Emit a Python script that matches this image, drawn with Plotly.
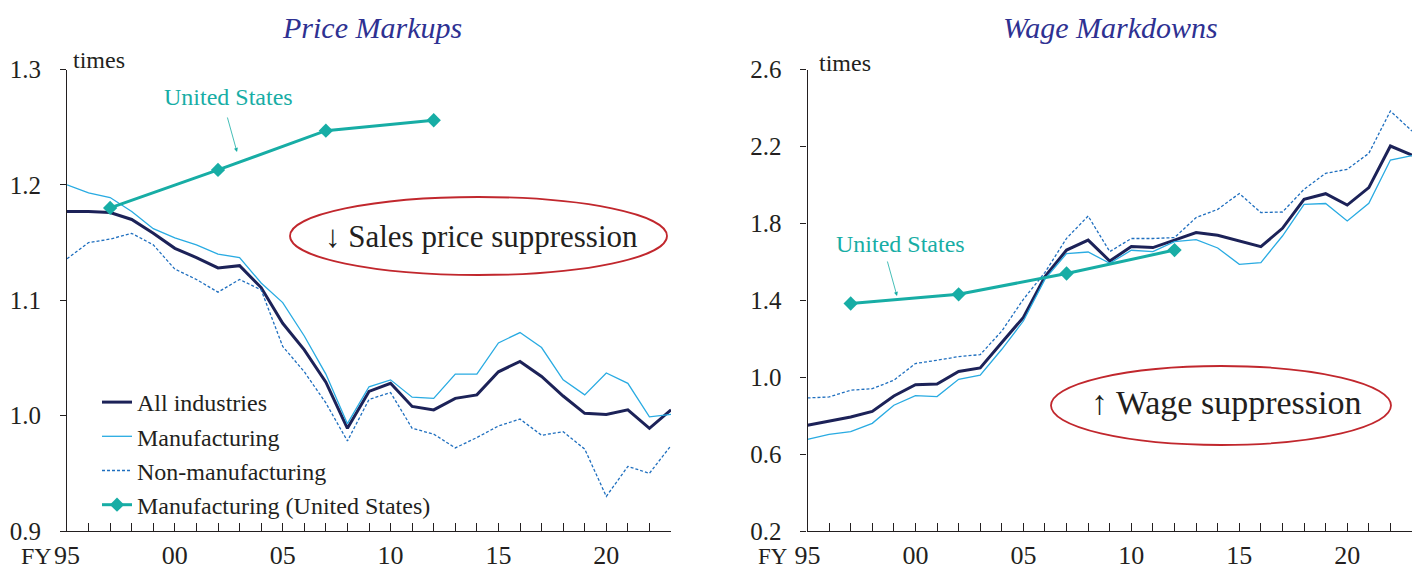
import plotly.graph_objects as go

# page body has an 8px margin; figure is sized to fit the 1424x583 window
OFF = 8
W, H = 1424 - 2 * OFF, 583 - 2 * OFF

years = list(range(1995, 2024))
us_years = [1997, 2002, 2007, 2012]

# Price markups
price_all = [1.177, 1.177, 1.176, 1.170, 1.158, 1.145, 1.137, 1.128, 1.130, 1.111,
             1.080, 1.057, 1.029, 0.989, 1.021, 1.028, 1.008, 1.005, 1.015, 1.018,
             1.038, 1.047, 1.034, 1.017, 1.002, 1.001, 1.005, 0.989, 1.005]
price_mfg = [1.200, 1.193, 1.189, 1.177, 1.162, 1.154, 1.148, 1.140, 1.137, 1.115,
             1.098, 1.069, 1.036, 0.993, 1.025, 1.031, 1.016, 1.015, 1.036, 1.036,
             1.063, 1.072, 1.059, 1.031, 1.018, 1.037, 1.028, 0.999, 1.001]
price_nonmfg = [1.136, 1.150, 1.153, 1.158, 1.148, 1.127, 1.118, 1.107, 1.118, 1.109,
                1.060, 1.038, 1.011, 0.978, 1.014, 1.020, 0.989, 0.984, 0.972, 0.981,
                0.991, 0.997, 0.983, 0.986, 0.971, 0.930, 0.956, 0.950, 0.974]
price_us = [1.180, 1.213, 1.247, 1.256]

# Wage markdowns
wage_all = [0.750, 0.772, 0.793, 0.822, 0.902, 0.961, 0.964, 1.030, 1.048, 1.180,
            1.311, 1.523, 1.661, 1.713, 1.604, 1.679, 1.674, 1.713, 1.752, 1.738,
            1.708, 1.679, 1.774, 1.925, 1.954, 1.895, 1.986, 2.202, 2.155]
wage_mfg = [0.677, 0.703, 0.717, 0.760, 0.854, 0.904, 0.899, 0.989, 1.010, 1.145,
            1.292, 1.510, 1.643, 1.651, 1.592, 1.660, 1.653, 1.705, 1.715, 1.672,
            1.587, 1.596, 1.734, 1.899, 1.903, 1.812, 1.904, 2.129, 2.152]
wage_nonmfg = [0.892, 0.897, 0.932, 0.940, 0.984, 1.071, 1.088, 1.107, 1.117, 1.240,
               1.405, 1.545, 1.722, 1.838, 1.653, 1.721, 1.721, 1.726, 1.830, 1.873,
               1.955, 1.856, 1.859, 1.977, 2.060, 2.081, 2.164, 2.384, 2.280]
wage_us = [1.383, 1.431, 1.539, 1.661]

x_tickvals = years
x_ticktext = ["95", "", "", "", "", "00", "", "", "", "", "05", "", "", "", "",
              "10", "", "", "", "", "15", "", "", "", "", "20", "", "", ""]

series_names = ["All industries", "Manufacturing", "Non-manufacturing",
                "Manufacturing (United States)"]

NAVY = "#1c2258"
LBLUE = "#29abe2"
DBLUE = "#1f6fbf"
TEAL = "#17ada5"
TXT = "#231f20"
FONT = "Liberation Serif"

fig = go.Figure()

def add_panel(xa, ya, all_v, mfg_v, non_v, us_v, show):
    fig.add_trace(go.Scatter(x=years, y=all_v, mode="lines", name=series_names[0],
                             line=dict(color=NAVY, width=3), xaxis=xa, yaxis=ya,
                             showlegend=show))
    fig.add_trace(go.Scatter(x=years, y=mfg_v, mode="lines", name=series_names[1],
                             line=dict(color=LBLUE, width=1.3), xaxis=xa, yaxis=ya,
                             showlegend=show))
    fig.add_trace(go.Scatter(x=years, y=non_v, mode="lines", name=series_names[2],
                             line=dict(color=DBLUE, width=1.3, dash="3px,2px"),
                             xaxis=xa, yaxis=ya, showlegend=show))
    fig.add_trace(go.Scatter(x=us_years, y=us_v, mode="lines+markers", name=series_names[3],
                             line=dict(color=TEAL, width=3),
                             marker=dict(symbol="diamond", size=11, color=TEAL),
                             xaxis=xa, yaxis=ya, showlegend=show))

add_panel("x", "y", price_all, price_mfg, price_nonmfg, price_us, True)
add_panel("x2", "y2", wage_all, wage_mfg, wage_nonmfg, wage_us, False)

def px_x(p):
    return (p - OFF) / W

def px_y(p):
    return 1 - (p - OFF) / H

ydom = [px_y(531), px_y(69.5)]

xaxis_common = dict(range=[1995, 2023], tickmode="array", tickvals=x_tickvals,
                    ticktext=x_ticktext, ticks="inside", ticklen=8, tickwidth=1,
                    tickcolor=TXT, showline=True, linecolor=TXT, linewidth=1.2,
                    showgrid=False, zeroline=False, automargin=False,
                    tickfont=dict(family=FONT, size=26, color=TXT),
                    ticklabelstandoff=1)
yaxis_common = dict(ticks="outside", ticklen=6, tickwidth=1, tickcolor=TXT,
                    showline=True, linecolor=TXT, linewidth=1.2, showgrid=False,
                    zeroline=False, automargin=False,
                    tickfont=dict(family=FONT, size=25, color=TXT),
                    tickformat=".1f", ticklabelstandoff=14, domain=ydom)

fig.update_layout(
    width=W, height=H, margin=dict(l=0, r=0, t=0, b=0, autoexpand=False),
    paper_bgcolor="white", plot_bgcolor="white",
    xaxis=dict(xaxis_common, domain=[px_x(67), px_x(671)], anchor="y"),
    yaxis=dict(yaxis_common, range=[0.9, 1.3], dtick=0.1, tick0=0.9, anchor="x"),
    xaxis2=dict(xaxis_common, domain=[px_x(807.5), px_x(1412)], anchor="y2"),
    yaxis2=dict(yaxis_common, range=[0.2, 2.6], dtick=0.4, tick0=0.2, anchor="x2"),
    legend=dict(x=px_x(97), y=px_y(380), xanchor="left", yanchor="top",
                font=dict(family=FONT, size=24, color=TXT),
                bgcolor="rgba(0,0,0,0)", itemwidth=30, tracegroupgap=0),
    showlegend=True,
)

def txt(text, x, y, size, color=TXT, xanchor="center"):
    return dict(text=text, x=px_x(x), y=px_y(y), xref="paper", yref="paper",
                xanchor=xanchor, yanchor="middle", showarrow=False,
                font=dict(family=FONT, size=size, color=color))

annotations = [
    txt("<i>Price Markups</i>", 372, 27.5, 30, "#2e3192"),
    txt("<i>Wage Markdowns</i>", 1110, 27.5, 30, "#2e3192"),
    txt("times", 71, 60, 24, xanchor="left"),
    txt("times", 817, 63, 24, xanchor="left"),
    txt("FY", 36, 556, 24),
    txt("FY", 773, 556, 23),
    txt("United States", 228, 97, 24, TEAL),
    txt("United States", 900, 244, 24, TEAL),
    dict(text="", x=px_x(237), y=px_y(152), ax=-10, ay=-36,
         xref="paper", yref="paper", axref="pixel", ayref="pixel",
         showarrow=True, arrowhead=2, arrowsize=1, arrowwidth=0.8, arrowcolor=TEAL),
    dict(text="", x=px_x(897), y=px_y(296), ax=-10, ay=-36,
         xref="paper", yref="paper", axref="pixel", ayref="pixel",
         showarrow=True, arrowhead=2, arrowsize=1, arrowwidth=0.8, arrowcolor=TEAL),
    txt("↓ Sales price suppression", 481, 236, 31),
    txt("↑ Wage suppression", 1226, 402, 34),
]
fig.update_layout(annotations=annotations)

shapes = [
    dict(type="circle", xref="paper", yref="paper", x0=px_x(290), x1=px_x(667),
         y0=px_y(275), y1=px_y(197), line=dict(color="#c1272d", width=1.8)),
    dict(type="circle", xref="paper", yref="paper", x0=px_x(1051), x1=px_x(1391),
         y0=px_y(445), y1=px_y(366), line=dict(color="#c1272d", width=1.8)),
]
fig.update_layout(shapes=shapes)

fig.write_html("out.html")
